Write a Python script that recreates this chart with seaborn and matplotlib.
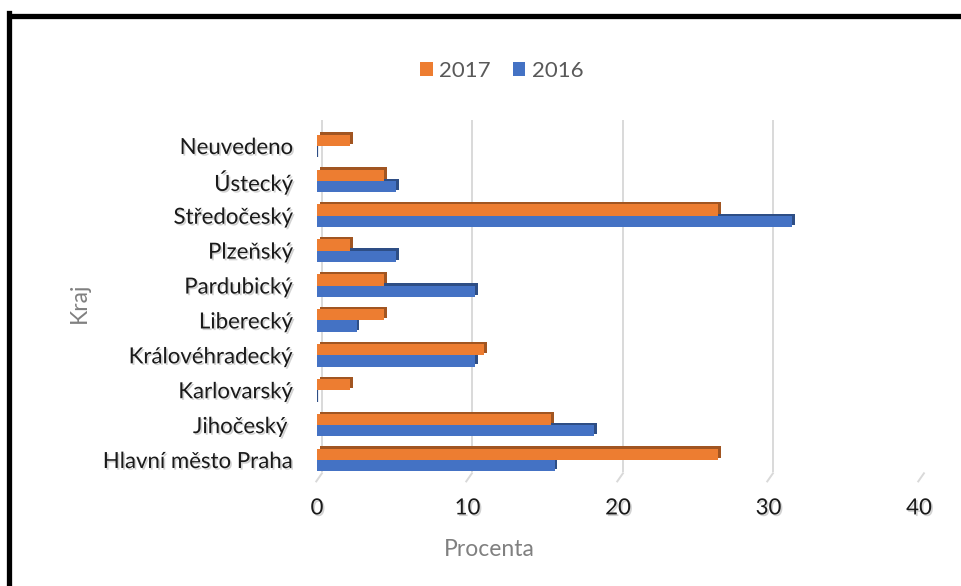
import matplotlib
matplotlib.use("Agg")
import matplotlib.pyplot as plt
import matplotlib.patheffects as pe
import matplotlib.transforms as mtransforms
from matplotlib.lines import Line2D
from matplotlib.patches import Rectangle
from matplotlib.path import Path
from matplotlib.colors import to_rgb
import seaborn as sns
import pandas as pd

# Regions (top to bottom as drawn)
kraje = ["Neuvedeno", "Ústecký", "Středočeský", "Plzeňský", "Pardubický",
         "Liberecký", "Královéhradecký", "Karlovarský", "Jihočeský ",
         "Hlavní město Praha"]

# Share of respondents per region, in percent
pct_2017 = [2.22, 4.44, 26.67, 2.22, 4.44, 4.44, 11.11, 2.22, 15.56, 26.67]
pct_2016 = [0.0, 5.26, 31.58, 5.26, 10.53, 2.63, 10.53, 0.0, 18.42, 15.79]

roky = ["2017", "2016"]
barvy = ["#ED7D31", "#4472C4"]
osa_x = [0, 10, 20, 30, 40]

df = pd.DataFrame({
    "Kraj": kraje * 2,
    "Procenta": pct_2017 + pct_2016,
    "Rok": [roky[0]] * len(kraje) + [roky[1]] * len(kraje),
})

sns.set_theme(style="white")
plt.rcParams["font.family"] = ["Lato", "DejaVu Sans"]

fig = plt.figure(figsize=(9.61, 5.86), dpi=100)
ax = fig.add_axes([317 / 961, 1 - 472 / 586, 602 / 961, 352 / 586])

sns.barplot(data=df, y="Kraj", x="Procenta", hue="Rok", hue_order=roky,
            palette=barvy, order=kraje, width=0.65, orient="h",
            saturation=1, ax=ax, legend=False)


def darker(c, f=0.68):
    r, g, b = to_rgb(c)
    return (r * f, g * f, b * f)


# Fake 3D depth: darker face peeking out to the upper right of each bar
for p in ax.patches:
    fc = p.get_facecolor()
    dark = darker(fc)
    if p.get_width() == 0:
        # empty bars still show their end face as a thin sliver
        p.set_edgecolor(dark)
        p.set_linewidth(1.6)
    else:
        p.set_edgecolor("none")
    p.set_path_effects([
        pe.SimplePatchShadow(offset=(2.0, 1.6), shadow_rgbFace=dark, alpha=1.0),
        pe.Normal(),
    ])
    # upper (2017) bars sit in front of the lower ones
    is_orange = abs(fc[0] - to_rgb(barvy[0])[0]) < 0.05
    p.set_zorder(3 if is_orange else 2)

ax.set_xlim(0, 40)
ax.set_xticks(osa_x)
ax.set_ylim(9.344, -0.745)
ax.set_xlabel("")
ax.set_ylabel("")
for s in ax.spines.values():
    s.set_visible(False)

ax.tick_params(axis="x", length=0, pad=19, labelsize=16, labelcolor="#1a1a1a")
ax.tick_params(axis="y", length=0, pad=17, labelsize=16, labelcolor="#1a1a1a")

# soft drop shadow under the tick labels
for lab in ax.get_xticklabels() + ax.get_yticklabels():
    lab.set_path_effects([
        pe.SimplePatchShadow(offset=(1.2, -1.2), shadow_rgbFace="#808080",
                             alpha=0.35),
        pe.Normal(),
    ])

# gridlines, pushed back a little like the depth of the bars
offset = mtransforms.ScaledTranslation(0.045, 0, fig.dpi_scale_trans)
ax.xaxis.grid(True, color="#d9d9d9", linewidth=1.4)
ax.set_axisbelow(True)
for gl in ax.get_xgridlines():
    gl.set_transform(gl.get_transform() + offset)

slant = Path([(0, 0), (-0.7, -1.0)], [Path.MOVETO, Path.LINETO])
for t in ax.xaxis.get_major_ticks():
    t.tick1line.set_visible(True)
    t.tick1line.set_marker(slant)
    t.tick1line.set_markersize(14)
    t.tick1line.set_markeredgecolor("#d9d9d9")
    t.tick1line.set_markeredgewidth(1.4)
    t.tick1line.set_transform(t.tick1line.get_transform() + offset)

# axis titles
fig.text(489 / 961, 1 - 550 / 586, "Procenta", ha="center", va="center",
         fontsize=16.5, color="#808080")
fig.text(79 / 961, 1 - 303 / 586, "Kraj", ha="center", va="center",
         rotation=90, fontsize=16.5, color="#808080")

# legend
handles = [Rectangle((0, 0), 1, 1, facecolor=c, edgecolor="none") for c in barvy]
fig.legend(handles, roky, loc="center", bbox_to_anchor=(502 / 961, 1 - 71 / 586),
           ncol=2, frameon=False, fontsize=16, labelcolor="#595959",
           handlelength=0.55, handleheight=0.55, handletextpad=0.3,
           columnspacing=1.0)

# black frame on the left and top
fig.add_artist(Line2D([8.5 / 961, 8.5 / 961], [0, 1 - 13 / 586],
                      transform=fig.transFigure, color="black", linewidth=3.8,
                      solid_capstyle="projecting"))
fig.add_artist(Line2D([8.5 / 961, 1], [1 - 15.5 / 586, 1 - 15.5 / 586],
                      transform=fig.transFigure, color="black", linewidth=3.8,
                      solid_capstyle="butt"))

fig.savefig("out.png", dpi=100)
